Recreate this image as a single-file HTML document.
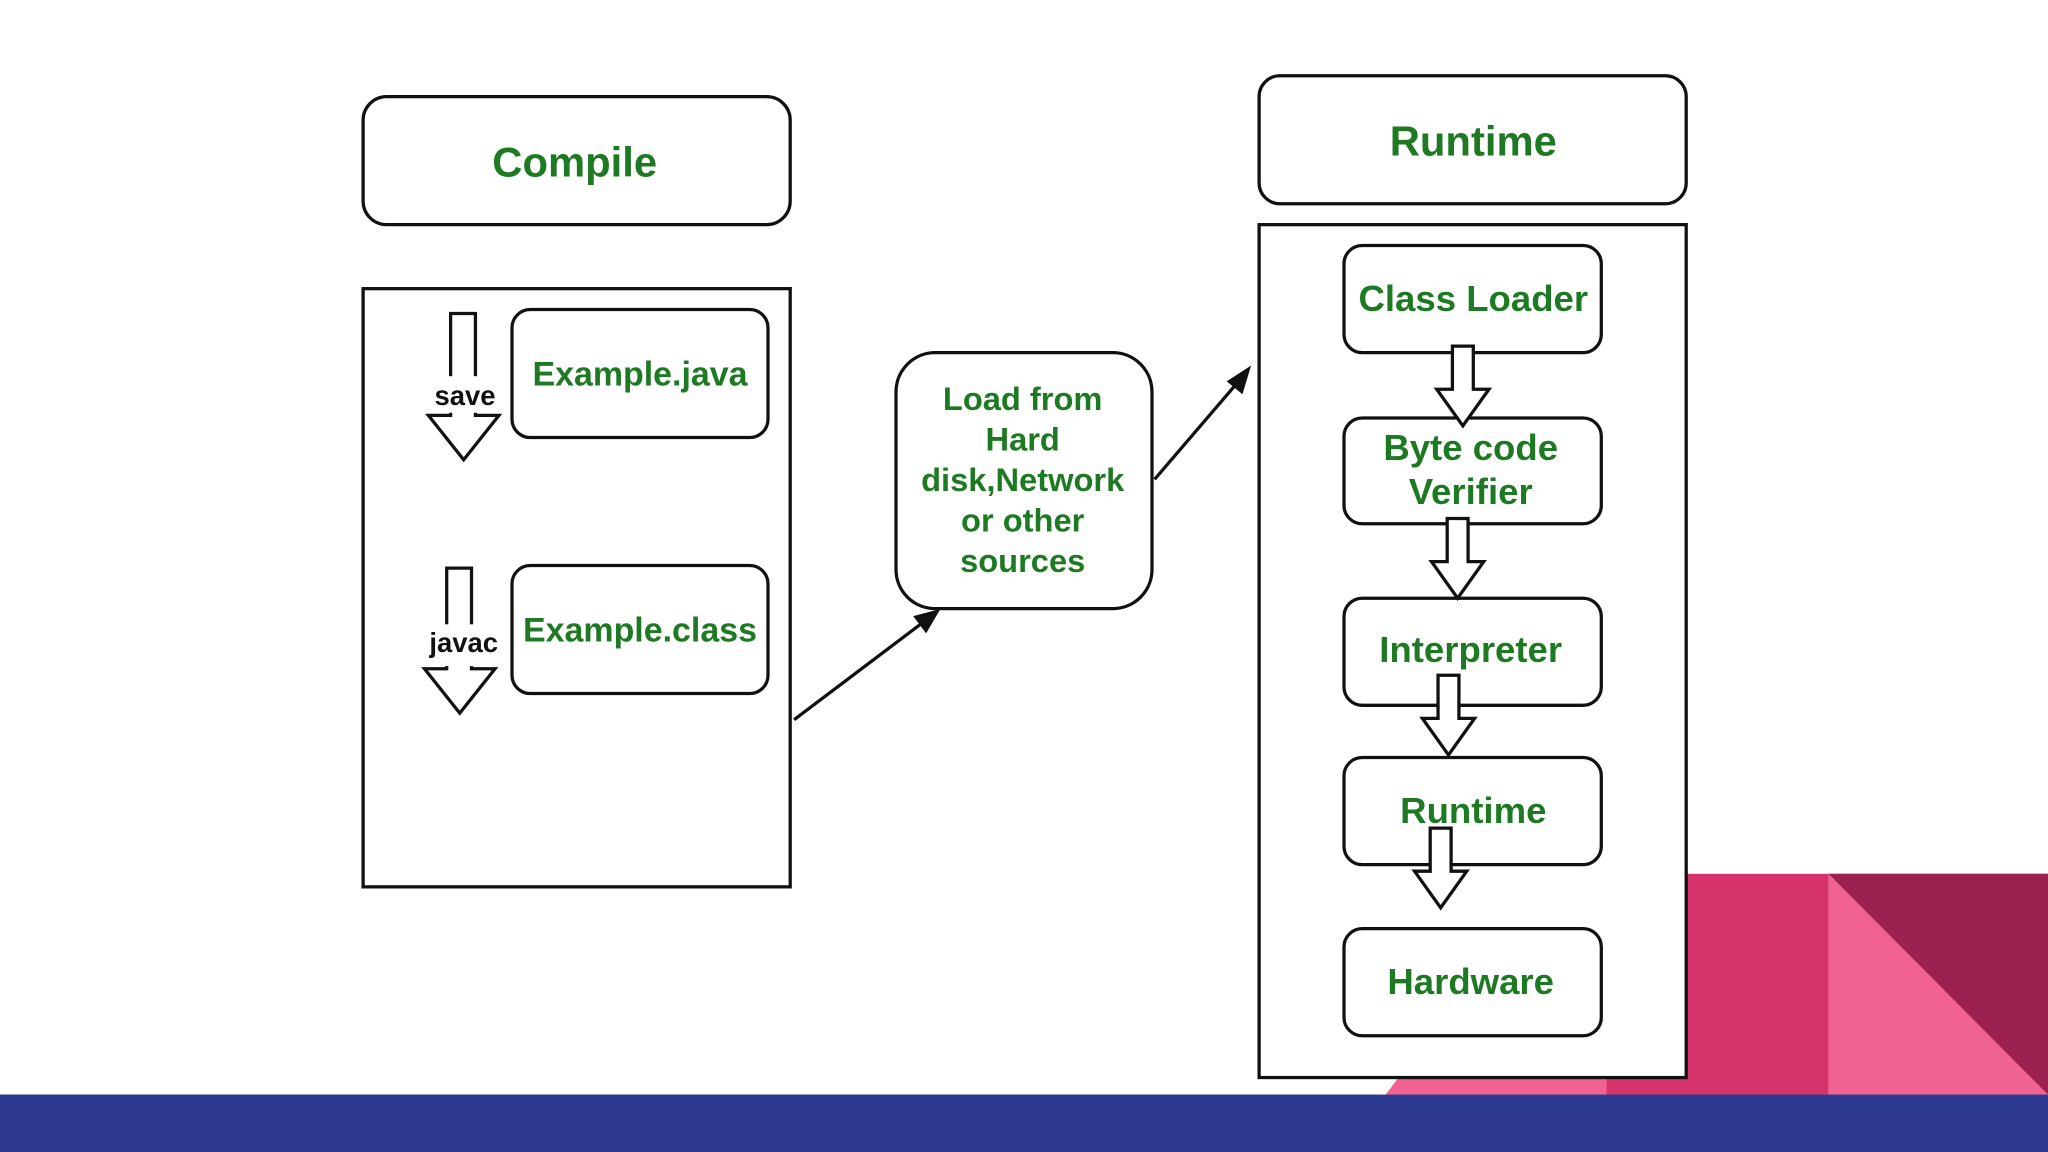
<!DOCTYPE html>
<html><head><meta charset="utf-8"><style>
html,body{margin:0;padding:0;background:#fff;}
svg{display:block;}
text{font-family:"Liberation Sans",sans-serif;font-weight:bold;fill:#1e7a22;text-anchor:middle;}
</style></head><body>
<svg width="2048" height="1152" viewBox="0 0 1568 882" xmlns="http://www.w3.org/2000/svg">
<rect width="1568" height="882" fill="#fff"/>
<!-- decorations -->
<polygon points="1061,838 1230,838 1230,612" fill="#f06292"/>
<rect x="1230" y="669" width="170" height="169" fill="#d6336c"/>
<rect x="1400" y="669" width="168" height="169" fill="#f06292"/>
<polygon points="1400,669 1568,669 1568,838" fill="#9c214e"/>
<rect x="0" y="838" width="1568" height="44" fill="#2e3a8f"/>

<g stroke="#111" stroke-width="2.5" fill="#fff">
<!-- compile -->
<rect x="278" y="74" width="327" height="98" rx="18"/>
<rect x="278" y="221" width="327" height="458"/>
<rect x="392" y="237" width="196" height="98" rx="14"/>
<rect x="392" y="433" width="196" height="98" rx="14"/>
<polygon points="345,240 364,240 364,318 382,318 355,352 328,318 345,318"/>
<polygon points="342,435 361,435 361,512 379,512 352,546 325,512 342,512"/>
<!-- load -->
<rect x="686" y="270" width="196" height="196" rx="30"/>
<!-- runtime -->
<rect x="964" y="58" width="327" height="98" rx="16"/>
<rect x="964" y="172" width="327" height="653"/>
<rect x="1029" y="188" width="197" height="82" rx="14"/>
<rect x="1029" y="320" width="197" height="81" rx="14"/>
<rect x="1029" y="458" width="197" height="82" rx="14"/>
<rect x="1029" y="580" width="197" height="82" rx="14"/>
<rect x="1029" y="711" width="197" height="82" rx="14"/>
<polygon points="1112,265 1128,265 1128,298 1140,298 1120,326 1100,298 1112,298"/>
<polygon points="1108,397 1124,397 1124,430 1136,430 1116,458 1096,430 1108,430"/>
<polygon points="1101,517 1117,517 1117,550 1129,550 1109,578 1089,550 1101,550"/>
<polygon points="1095,634 1111,634 1111,667 1123,667 1103,695 1083,667 1095,667"/>
</g>
<!-- label gaps -->
<rect x="328" y="288" width="56" height="28" fill="#fff"/>
<rect x="323" y="478" width="64" height="32" fill="#fff"/>
<text x="356" y="310" font-size="21" style="fill:#111">save</text>
<text x="355" y="499" font-size="21" style="fill:#111">javac</text>

<!-- connectors -->
<g stroke="#111" stroke-width="2.5" fill="#111">
<line x1="608" y1="551" x2="710" y2="474"/>
<polygon points="719,467 700,472 709,484" stroke-width="1"/>
<line x1="884" y1="367" x2="950" y2="290"/>
<polygon points="957,281 940,292 951,301" stroke-width="1"/>
</g>

<text x="440" y="135" font-size="32">Compile</text>
<text x="1128" y="119" font-size="32">Runtime</text>
<text x="490" y="295" font-size="26">Example.java</text>
<text x="490" y="491" font-size="26">Example.class</text>
<g font-size="25">
<text x="783" y="314">Load from</text>
<text x="783" y="345">Hard</text>
<text x="783" y="376">disk,Network</text>
<text x="783" y="407">or other</text>
<text x="783" y="438">sources</text>
</g>
<text x="1128" y="238" font-size="28">Class Loader</text>
<text x="1126" y="352" font-size="28">Byte code</text>
<text x="1126" y="386" font-size="28">Verifier</text>
<text x="1126" y="507" font-size="28">Interpreter</text>
<text x="1128" y="630" font-size="28">Runtime</text>
<text x="1126" y="761" font-size="28">Hardware</text>
</svg>
</body></html>
